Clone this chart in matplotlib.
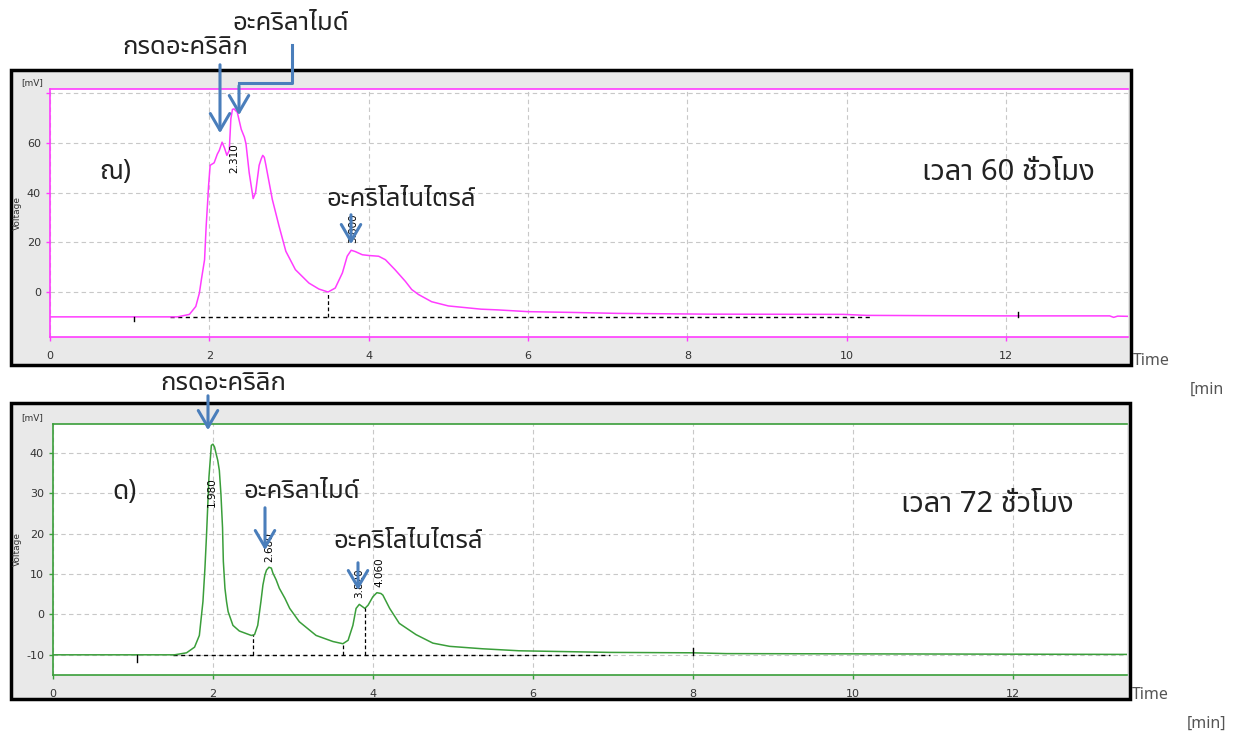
import numpy as np
import matplotlib
matplotlib.use('Agg')
import matplotlib.pyplot as plt
from matplotlib import font_manager as fm
from matplotlib.ft2font import FT2Font
from matplotlib.patches import Rectangle, FancyArrowPatch
from matplotlib.lines import Line2D

# --- data (time in min, signal in mV) ---
t_top = [0.0, 1.6, 1.75, 1.83, 1.875, 1.90, 1.94, 1.96, 1.98, 1.99, 2.01, 2.06, 2.10, 2.125,
         2.16, 2.19, 2.22, 2.25, 2.27, 2.29, 2.31, 2.33, 2.35, 2.40, 2.44, 2.46, 2.50, 2.55,
         2.58, 2.625, 2.65, 2.67, 2.69, 2.71, 2.79, 2.875, 2.96, 3.08, 3.25, 3.375, 3.49,
         3.58, 3.67, 3.73, 3.78, 3.83, 3.92, 4.0, 4.125, 4.21, 4.33, 4.46, 4.54, 4.625,
         4.79, 5.0, 5.41, 5.625, 6.0, 6.54, 7.125, 8.25, 9.96, 10.25, 11.0, 12.0, 13.3,
         13.35, 13.4, 13.55]
v_top = [-10, -10, -9, -5.8, -0.4, 5, 13, 26.5, 37, 42.7, 51, 52, 55.5, 57,
         60.3, 58, 55, 57, 69.7, 73.5, 73.7, 73, 72.4, 65.5, 62.3, 59.6, 48, 37.6,
         40, 51, 53.5, 55, 54.2, 51, 37.3, 26.5, 16.4, 9, 3.6, 1.2, 0,
         1.6, 7.7, 14.4, 16.8, 16.3, 15, 14.7, 14.4, 13, 9, 4.3, 1.0, -1,
         -3.9, -5.6, -6.9, -7.2, -7.9, -8.2, -8.6, -8.9, -9.0, -9.4, -9.5, -9.6, -9.6,
         -10.2, -9.7, -9.8]

t_bot = [0.0, 1.52, 1.67, 1.77, 1.83, 1.875, 1.90, 1.92, 1.95, 1.98, 2.0, 2.02, 2.04, 2.06,
         2.08, 2.10, 2.12, 2.13, 2.15, 2.17, 2.19, 2.25, 2.33, 2.48, 2.52, 2.56, 2.60, 2.625,
         2.65, 2.67, 2.70, 2.73, 2.75, 2.79, 2.83, 2.90, 2.96, 3.08, 3.29, 3.5, 3.625, 3.69,
         3.75, 3.79, 3.83, 3.9, 3.94, 4.0, 4.05, 4.1, 4.125, 4.21, 4.33, 4.54, 4.75, 4.96,
         5.37, 5.83, 6.96, 8.0, 8.42, 11.0, 13.45]
v_bot = [-10, -10, -9.5, -8.1, -5.2, 3.2, 11.5, 19.8, 34, 41.9, 42.2, 41.5, 39.8, 38.2,
         35.7, 29.8, 21.5, 13.2, 6.5, 3.2, 0.7, -2.7, -4.1, -5.2, -5.0, -2.7, 3.2, 7.3,
         9.8, 11, 11.7, 11.5, 10.25, 8.6, 6.5, 4.0, 1.5, -1.8, -5.2, -6.7, -7.25, -6.4,
         -2.7, 1.5, 2.5, 1.5, 2.3, 4.4, 5.4, 5.2, 4.8, 1.5, -2.2, -5.0, -7.1, -7.9,
         -8.5, -9.0, -9.4, -9.5, -9.7, -9.8, -9.9]

# peak retention labels: (time, y position of text foot)
peaks_top = [(2.31, 48, '2.310'), (3.81, 19.7, '3.800')]
peaks_bot = [(1.99, 26.6, '1.980'), (2.71, 13.0, '2.680'), (3.83, 4.1, '3.820'), (4.08, 6.8, '4.060')]

# integration boundaries (time, signal level)
bounds_top = [(3.49, 0.0)]
bounds_bot = [(2.50, -5.1), (3.63, -7.2), (3.90, 1.5)]
marks_top = [1.05, 12.15]
marks_bot = [1.05, 8.0]


def thai_font():
    preferred = ['Tahoma', 'Leelawadee UI', 'Noto Sans Thai', 'Noto Sans Thai UI', 'Loma',
                 'Garuda', 'Norasi', 'Sarabun', 'Waree']
    found = []
    for f in fm.fontManager.ttflist:
        try:
            if 0x0E04 in FT2Font(f.fname).get_charmap():
                found.append(f.name)
        except Exception:
            pass
    for p in preferred:
        if p in found:
            return p
    return found[0] if found else 'DejaVu Sans'


THAI = thai_font()
plt.rcParams['font.family'] = [THAI, 'DejaVu Sans']

W, H = 1242, 738
fig = plt.figure(figsize=(W / 100, H / 100), dpi=100)


def px(x, y):
    return x / W, 1 - y / H


def panel(frame, box, t, v, color, ylim, yticks, ylabels, xmax, peaks, bounds, marks, base_end):
    fx0, fy0, fx1, fy1 = frame
    fig.add_artist(Rectangle(px(fx0, fy1), (fx1 - fx0) / W, (fy1 - fy0) / H,
                             transform=fig.transFigure, facecolor='#e9e9e9',
                             edgecolor='black', lw=2.5, zorder=0))
    x0, y0, x1, y1 = box
    ax = fig.add_axes([x0 / W, 1 - y1 / H, (x1 - x0) / W, (y1 - y0) / H])
    ax.set_facecolor('white')
    ax.set_zorder(1)
    ax.plot([1.5, base_end], [-10, -10], color='black', lw=1, ls=(0, (3, 2.5)))
    ax.plot(t, v, color=color, lw=1.1, solid_joinstyle='round')
    for bt, bv in bounds:
        ax.plot([bt, bt], [-10, bv], color='black', lw=0.9, ls=(0, (3, 2)))
    for m in marks:
        ax.plot([m, m], [-10, -11.8] if m < 2 else [-10, -8.2], color='black', lw=1)
    for pt, pv, lab in peaks:
        ax.text(pt, pv, lab, rotation=90, fontsize=7.5, family='DejaVu Sans',
                ha='center', va='bottom', color='black')
    ax.set_xlim(0, xmax)
    ax.set_ylim(*ylim)
    ax.set_xticks([0, 2, 4, 6, 8, 10, 12])
    ax.set_yticks(yticks)
    ax.set_yticklabels(ylabels)
    ax.grid(True, color='#c8c8c8', ls=(0, (4, 3)), lw=0.8)
    ax.set_axisbelow(True)
    for s in ['left', 'top', 'bottom']:
        ax.spines[s].set_color(color)
        ax.spines[s].set_linewidth(1.2)
    ax.spines['right'].set_visible(False)
    ax.tick_params(colors=color, labelcolor='#333333', labelsize=8, length=3, width=1)
    ax.tick_params(axis='x', pad=7)
    for lab in ax.get_xticklabels() + ax.get_yticklabels():
        lab.set_family('DejaVu Sans')
    fig.text(*px(21, y0 - 2), '[mV]', fontsize=6.5, family='DejaVu Sans', color='#333333',
             va='bottom')
    fig.text(*px(17, (y0 + y1) / 2), 'Voltage', fontsize=6.5, family='DejaVu Sans',
             color='#333333', rotation=90, ha='center', va='center')
    fig.text(*px(fx1 + 2, fy1 - 4), 'Time', fontsize=11.5, color='#555555', va='center')
    return ax


ax1 = panel((11, 70, 1131, 365), (50, 89, 1128, 337), t_top, v_top, '#ff3cff',
            (-18.1, 81.7), [0, 20, 40, 60, 80], ['0', '20', '40', '60', ''], 13.53,
            peaks_top, bounds_top, marks_top, 10.3)
ax2 = panel((11, 403, 1130, 699), (53, 424, 1127, 675), t_bot, v_bot, '#3a9e3a',
            (-15, 47.2), [-10, 0, 10, 20, 30, 40], ['-10', '0', '10', '20', '30', '40'], 13.43,
            peaks_bot, bounds_bot, marks_bot, 6.96)

fig.text(*px(1190, 390), '[min', fontsize=11.5, color='#555555', va='center')
fig.text(*px(1187, 724), '[min]', fontsize=11.5, color='#555555', va='center')

ARROW = '#4a7ebb'


def arrow(xa, ya, xb, yb):
    fig.add_artist(FancyArrowPatch(px(xa, ya), px(xb, yb), transform=fig.transFigure,
                                   arrowstyle='->,head_length=0.6,head_width=0.35',
                                   mutation_scale=20, color=ARROW, lw=2.2, zorder=5))


def label(x, y, s, size=18.5):
    fig.text(*px(x, y), s, fontsize=size, ha='center', va='center', color='#222222', zorder=6)


# top panel annotations
label(185, 48, 'กรดอะคริลิก')
label(291, 24, 'อะคริลาไมด์')
arrow(220, 62, 220, 136)
fig.add_artist(Line2D([292 / W, 292 / W, 239 / W], [1 - 45 / H, 1 - 83 / H, 1 - 83 / H],
                      transform=fig.transFigure, color=ARROW, lw=2.2, zorder=5))
arrow(239, 83, 239, 118)
label(115, 172, 'ณ)', 19)
label(1008, 172, 'เวลา 60 ชั่วโมง', 21)
label(401, 200, 'อะคริโลไนไตรล์')
arrow(351, 212, 351, 247)

# bottom panel annotations
label(223, 383, 'กรดอะคริลิก')
arrow(208, 393, 208, 433)
label(125, 492, 'ด)', 19)
label(302, 492, 'อะคริลาไมด์')
arrow(265, 505, 265, 553)
label(408, 541, 'อะคริโลไนไตรล์')
arrow(358, 560, 358, 593)
label(987, 505, 'เวลา 72 ชั่วโมง', 21)

fig.savefig('out.png', dpi=100)
